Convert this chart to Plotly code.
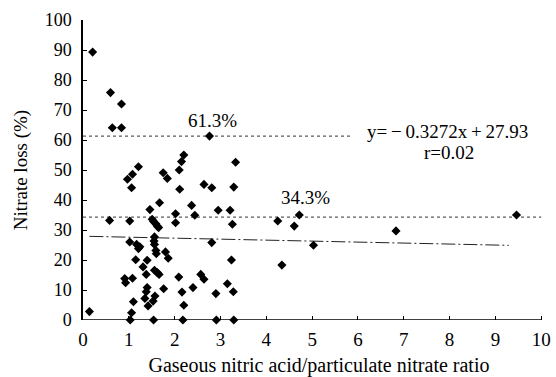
import plotly.graph_objects as go

# Gaseous HNO3 / particulate nitrate ratio vs. nitrate loss (%)
ratio = [0.21, 0.60, 0.84, 0.64, 0.84, 2.76, 1.21, 2.20, 2.15, 2.10, 3.33,
         0.14, 0.58, 1.08, 0.97, 1.06, 1.02, 1.02, 1.17, 1.24, 1.21, 1.15,
         0.91, 0.93, 1.08, 1.10, 1.06, 1.03, 1.31, 1.40, 1.38, 1.40, 1.38,
         1.35, 1.42, 1.53, 1.57, 1.54, 1.46, 1.67, 1.51, 1.54, 1.59, 1.62,
         1.65, 1.56, 1.55, 1.56, 1.59, 1.60, 1.56, 1.62, 1.66, 1.80, 1.86,
         1.76, 1.75, 1.84, 2.11, 2.02, 2.02, 2.09, 2.16, 2.20, 2.18, 2.37,
         2.44, 2.40, 2.57, 2.64, 2.64, 2.81, 2.81, 2.95, 2.90, 2.91, 3.21,
         3.26, 3.29, 3.24, 3.15, 3.28, 3.29, 4.25, 4.61, 4.72, 4.34, 5.03,
         6.83, 9.46]
loss = [89.3, 75.8, 72.0, 64.1, 64.1, 61.3, 51.1, 55.0, 52.8, 50.0, 52.6,
        2.8, 33.2, 48.6, 46.9, 44.1, 33.0, 26.0, 25.2, 24.4, 23.8, 20.1,
        13.8, 12.4, 13.9, 6.1, 2.4, 0.0, 17.7, 19.9, 15.2, 10.8, 9.4,
        7.2, 4.7, 6.3, 8.0, 0.0, 36.8, 39.1, 33.6, 32.8, 32.1, 31.3,
        30.8, 27.7, 26.3, 25.2, 23.2, 22.1, 16.6, 15.8, 15.2, 22.7, 20.6,
        10.4, 49.1, 47.2, 43.6, 35.4, 32.4, 14.3, 9.3, 4.9, 0.0, 38.2,
        34.9, 10.8, 15.2, 13.6, 45.2, 44.1, 25.8, 36.6, 8.8, 0.0, 36.6,
        31.9, 44.3, 20.0, 12.1, 9.4, 0.0, 33.0, 31.3, 35.0, 18.3, 24.9,
        29.7, 35.0]

slope, intercept = -0.3272, 27.93
fit_x = [0.14, 9.29]
level_high = 61.3
level_low = 34.3
x_ticks = list(range(0, 11))
y_ticks = list(range(0, 101, 10))

FONT = "Liberation Serif"
THIN = "\u2009"

fig = go.Figure()

# reference levels
fig.add_trace(go.Scatter(x=[0, 5.85], y=[level_high, level_high], mode="lines",
                         line=dict(color="#333", width=1, dash="dot"),
                         hoverinfo="skip", showlegend=False))
fig.add_trace(go.Scatter(x=[0, 10.0], y=[level_low, level_low], mode="lines",
                         line=dict(color="#333", width=1, dash="dot"),
                         hoverinfo="skip", showlegend=False))
# regression line
fig.add_trace(go.Scatter(x=fit_x, y=[slope * v + intercept for v in fit_x],
                         mode="lines",
                         line=dict(color="#222", width=1, dash="14px,3px,2px,3px"),
                         hoverinfo="skip", showlegend=False))
# observations
fig.add_trace(go.Scatter(x=ratio, y=loss, mode="markers", cliponaxis=False,
                         marker=dict(symbol="diamond", size=7, color="black"),
                         showlegend=False))

# x axis line ending at 10
fig.add_shape(type="line", x0=0, x1=10, y0=0, y1=0, xref="x", yref="y",
              line=dict(color="black", width=1.5))

ann_font = dict(family=FONT, size=19, color="black")
fig.add_annotation(x=2.83, y=66.6, text="61.3%", showarrow=False, font=ann_font)
fig.add_annotation(x=4.85, y=40.8, text="34.3%", showarrow=False, font=ann_font)
fig.add_annotation(x=7.95, y=63.0,
                   text="y=" + THIN + "\u2212" + THIN + "0.3272x" + THIN + "+" + THIN + "27.93",
                   showarrow=False, font=ann_font)
fig.add_annotation(x=7.98, y=55.8, text="r=0.02", showarrow=False, font=ann_font)

fig.update_layout(
    width=556, height=377,
    margin=dict(l=83, r=1, t=20, b=57),
    paper_bgcolor="white", plot_bgcolor="white",
    font=dict(family=FONT, size=19, color="black"),
    xaxis=dict(range=[0, 10.3], tickvals=x_ticks, ticks="inside", ticklen=4,
               tickcolor="black", showline=False, showgrid=False, zeroline=False,
               tickfont=dict(size=19), ticklabelstandoff=6,
               title=dict(text="Gaseous nitric acid/particulate nitrate ratio",
                          font=dict(size=20), standoff=11)),
    yaxis=dict(range=[0, 100], tickvals=y_ticks, ticks="inside", ticklen=4,
               tickcolor="black", showline=True, linecolor="black", linewidth=1.5,
               showgrid=False, zeroline=False, tickfont=dict(size=18),
               ticklabelstandoff=6,
               title=dict(text="Nitrate loss (%)", font=dict(size=19), standoff=12)),
)

fig.write_html("out.html")
